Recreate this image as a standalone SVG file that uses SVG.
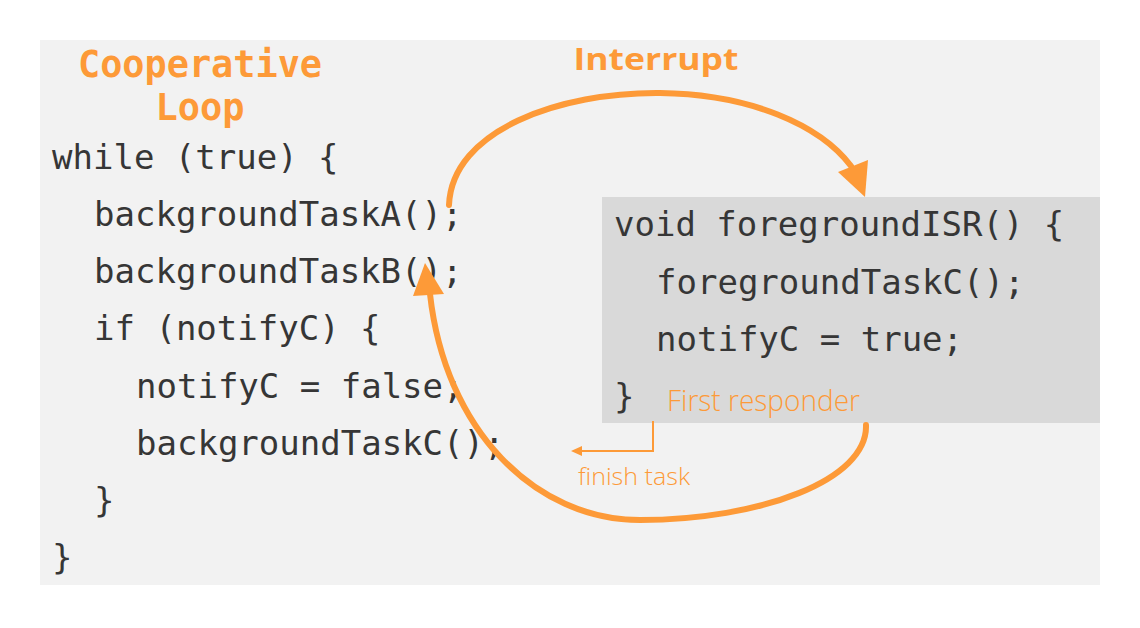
<svg xmlns="http://www.w3.org/2000/svg" width="1140" height="628" viewBox="0 0 1140 628">
<style>
.code{font-family:"DejaVu Sans Mono","Liberation Mono",monospace;font-size:34px;fill:#363636;white-space:pre}
.title{font-family:"DejaVu Sans Mono","Liberation Mono",monospace;font-size:37px;font-weight:bold;fill:#fd9a38}
.hand{font-family:"Open Sans","Noto Sans",sans-serif;font-weight:300;fill:#fd9a38}
.arc{fill:none;stroke:#fd9a38;stroke-width:6;stroke-linecap:round}
.thin{fill:none;stroke:#fd9a38;stroke-width:2}
.head{fill:#fd9a38}
</style>
<rect x="0" y="0" width="1140" height="628" fill="#ffffff"/>
<rect x="40" y="40" width="1060" height="545" fill="#f2f2f2"/>
<g id="loop">
<text class="title" x="200" y="77" text-anchor="middle" textLength="244" lengthAdjust="spacingAndGlyphs">Cooperative</text>
<text class="title" x="200" y="120" text-anchor="middle">Loop</text>
<text class="code" x="52" y="169">while (true) {</text>
<text class="code" x="94" y="226">backgroundTaskA();</text>
<text class="code" x="94" y="283">backgroundTaskB();</text>
<text class="code" x="94" y="340">if (notifyC) {</text>
<text class="code" x="136" y="398">notifyC = false;</text>
<text class="code" x="136" y="455">backgroundTaskC();</text>
<text class="code" x="94" y="512">}</text>
<text class="code" x="52" y="569">}</text>
</g>
<g id="isr">
<rect x="602" y="197" width="498" height="226" fill="#d9d9d9"/>
<text class="code" x="614" y="236">void foregroundISR() {</text>
<text class="code" x="656" y="294">foregroundTaskC();</text>
<text class="code" x="656" y="351">notifyC = true;</text>
<text class="code" x="614" y="408">}</text>
<text class="hand" x="667" y="411" font-size="29" textLength="193" lengthAdjust="spacingAndGlyphs">First responder</text>
</g>
<g id="interrupt-label">
<text x="656" y="70" text-anchor="middle" font-family="'Open Sans','Noto Sans',sans-serif" font-weight="bold" font-size="31" fill="#fd9a38" textLength="165" lengthAdjust="spacingAndGlyphs">Interrupt</text>
</g>
<g id="connectors">
<path class="arc" d="M449,205 C452,130 560,92 660,93 C750,94 820,125 851,166"/>
<polygon class="head" points="838,172 868,160 865,197"/>
<path class="arc" d="M866,425 C868,480 760,520 640,520 C535,520 445,430 430,294"/>
<polygon class="head" points="425,263 413,296 444,294"/>
<polyline class="thin" points="653,421 653,451 580,451"/>
<polygon class="head" points="571,451 582,446 582,456"/>
<text class="hand" x="578" y="485" font-size="24" textLength="112" lengthAdjust="spacingAndGlyphs">finish task</text>
</g>
</svg>
